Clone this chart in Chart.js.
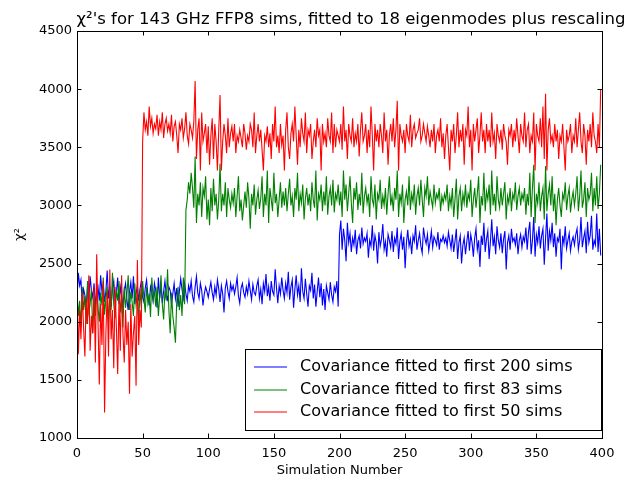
<!DOCTYPE html>
<html>
<head>
<meta charset="utf-8">
<script src="https://cdn.jsdelivr.net/npm/chart.js@4/dist/chart.umd.min.js"></script>
<style>
  html, body { margin: 0; padding: 0; background: #fff; }
  #wrap { width: 638px; height: 478px; }
</style>
</head>
<body>
<div id="wrap"><canvas id="chi2Chart" width="638" height="478"></canvas></div>
<script>
// chi^2 per simulation, one value per sim (sim number = index)
const cov200 = [
  2200, 2420, 2310, 2360, 2150, 2280, 2230, 2120, 2300, 2180, 2390, 2270, 2210, 2330, 2140, 2250, 2300, 2180, 2400, 2260,
  2320, 2170, 2260, 2440, 2200, 2300, 2130, 2280, 2350, 2190, 2250, 2380, 2150, 2300, 2220, 2120, 2270, 2330, 2190, 2100,
  2260, 2340, 2200, 2390, 2150, 2240, 2310, 2180, 2280, 2350, 2210, 2170, 2290, 2360, 2230, 2140, 2300, 2250, 2180, 2330,
  2270, 2120, 2380, 2200, 2310, 2160, 2260, 2350, 2230, 2190, 2300, 2270, 2150, 2240, 2330, 2200, 2290, 2130, 2260, 2370,
  2280, 2200, 2330, 2240, 2180, 2310, 2260, 2350, 2220, 2170, 2300, 2390, 2250, 2200, 2330, 2270, 2140, 2240, 2300, 2260,
  2210, 2280, 2340, 2250, 2190, 2300, 2230, 2360, 2280, 2170, 2310, 2240, 2080, 2290, 2350, 2260, 2200, 2330, 2270, 2310,
  2240, 2300, 2380, 2220, 2160, 2290, 2330, 2250, 2210, 2300, 2240, 2350, 2270, 2190, 2320, 2250, 2230, 2310, 2360, 2200,
  2280, 2150, 2330, 2260, 2410, 2220, 2300, 2180, 2350, 2260, 2230, 2450, 2290, 2160, 2310, 2240, 2380, 2270, 2200, 2330,
  2250, 2430, 2190, 2300, 2360, 2120, 2280, 2400, 2230, 2310, 2170, 2460, 2260, 2200, 2370, 2240, 2130, 2310, 2270, 2420,
  2200, 2320, 2130, 2260, 2380, 2210, 2330, 2140, 2280, 2100, 2310, 2250, 2190, 2340, 2230, 2170, 2300, 2260, 2350, 2130,
  2750, 2870, 2620, 2800, 2700, 2520, 2850, 2680, 2760, 2600, 2720, 2660, 2790, 2580, 2700, 2740, 2630, 2810, 2670, 2720,
  2690, 2760, 2550, 2700, 2650, 2830, 2610, 2740, 2680, 2500, 2770, 2650, 2710, 2840, 2620, 2690, 2560, 2750, 2700, 2640,
  2780, 2600, 2720, 2670, 2810, 2540, 2690, 2760, 2620, 2730, 2460, 2680, 2790, 2650, 2710, 2580, 2740, 2690, 2830, 2620,
  2700, 2760, 2650, 2590, 2810, 2720, 2670, 2750, 2610, 2690, 2780, 2640, 2730, 2700, 2660, 2770, 2620, 2710, 2690, 2740,
  2680, 2720, 2650, 2770, 2700, 2630, 2750, 2600, 2690, 2800, 2540, 2680, 2740, 2500, 2660, 2720, 2580, 2690, 2780, 2610,
  2750, 2680, 2560, 2720, 2800, 2620, 2700, 2470, 2740, 2660, 2850, 2600, 2710, 2780, 2540, 2690, 2880, 2650, 2730, 2580,
  2820, 2700, 2640, 2760, 2590, 2710, 2780, 2450, 2680, 2740, 2620, 2800, 2690, 2720, 2660, 2760, 2580, 2700, 2750, 2640,
  2730, 2690, 2810, 2620, 2770, 2860, 2580, 2700, 2900, 2560, 2750, 2680, 2820, 2630, 2740, 2800, 2490, 2720, 2930, 2610,
  2780, 2700, 2850, 2640, 2760, 2560, 2720, 2690, 2800, 2450, 2740, 2670, 2820, 2630, 2700, 2760, 2610, 2690, 2730, 2660,
  2750, 2800, 2620, 2700, 2900, 2640, 2720, 2780, 2590, 2860, 2680, 2740, 2910, 2620, 2700, 2660, 2930, 2600, 2800, 2570
];
const cov83 = [
  2250, 2050, 2180, 1950, 2300, 2100, 2220, 1980, 2350, 2080, 2150, 2280, 1900, 2200, 2050, 2320, 2120, 2000, 2250, 2140,
  2380, 2060, 2190, 2300, 1980, 2240, 2100, 2420, 2150, 2030, 2270, 2180, 2350, 2080, 2200, 1950, 2300, 2120, 2230, 2400,
  2100, 2260, 2170, 2050, 2330, 2150, 2230, 1980, 2280, 2120, 2350, 2200, 2080, 2300, 2160, 2240, 2040, 2380, 2190, 2260,
  2130, 2300, 2050, 2220, 2400, 2150, 2020, 2270, 2180, 2450, 2100, 1900, 2250, 2050, 1950, 1820, 2180, 2300, 2100, 2230,
  2050, 2380, 2150, 2960, 3050, 3200, 3100, 3280, 3150, 2980, 3420, 2850, 3100, 3000, 3200, 2900, 3150, 3080, 3250, 2880,
  3050, 2830, 3150, 2950, 3230, 3000, 3100, 2880, 3050, 3360, 2950, 3100, 3000, 3200, 2900, 3150, 3050, 2980, 3100, 3020,
  3150, 2900, 3080, 3250, 2950, 3050, 2870, 3000, 3120, 2980, 3200, 3060, 2800, 3100, 3000, 3180, 2920, 3050, 3130, 2970,
  3060, 3250, 2900, 3100, 3000, 3300, 2850, 3150, 3050, 2950, 3280, 3020, 3100, 2900, 3050, 3200, 2980, 3120, 3000, 3150,
  2950, 3100, 3230, 3000, 3080, 2900, 3150, 3050, 3280, 2950, 3100, 3020, 3180, 2880, 3060, 3150, 3000, 3100, 2950, 3200,
  3050, 2980, 3300, 2870, 3100, 3050, 3180, 2950, 3120, 3000, 3250, 2920, 3080, 3150, 3000, 3220, 2940, 3100, 3050, 3180,
  3000, 3120, 2900, 3300, 3050, 3180, 2950, 3100, 3250, 3020, 2850, 3150, 3050, 3200, 2960, 3100, 3000, 3280, 2930, 3080,
  3150, 3020, 3100, 2900, 3250, 3050, 3000, 3180, 2880, 3100, 3050, 3220, 2970, 3080, 3000, 3150, 2920, 3100, 3250, 3000,
  3080, 2950, 3150, 3050, 3300, 2900, 3100, 3020, 3180, 2850, 3050, 3120, 3000, 3250, 2960, 3100, 3030, 3180, 2920, 3080,
  3150, 3000, 3220, 3050, 2900, 3150, 3080, 3250, 3000, 3120, 3050, 2980, 3180, 3020, 3100, 3060, 3150, 2950, 3080, 3020,
  3100, 3050, 3180, 2950, 3080, 3000, 3150, 2900, 3050, 3230, 2880, 3080, 3150, 2950, 3100, 3020, 3180, 2980, 3100, 3050,
  3220, 2900, 3050, 3150, 2980, 3100, 3250, 2850, 3080, 3000, 3280, 2950, 3120, 3050, 3180, 2920, 3300, 3000, 3100, 2950,
  3250, 3050, 2980, 3150, 3000, 3100, 3200, 2880, 3080, 3020, 3150, 2950, 3100, 3050, 3200, 2960, 3080, 3150, 3000, 3100,
  3050, 3150, 2920, 3100, 3000, 3280, 2900, 3150, 3350, 2850, 3100, 3020, 3200, 2950, 3080, 3150, 2880, 3340, 2950, 3100,
  3180, 3000, 3250, 2950, 3100, 2830, 3050, 3150, 3000, 2900, 3100, 3050, 3200, 2960, 3080, 3150, 2940, 3050, 3120, 3000,
  3100, 3250, 2950, 3080, 3300, 2980, 3050, 3200, 2900, 3150, 3050, 3100, 3280, 2950, 3150, 3000, 3250, 2970, 3100, 3350
];
const cov50 = [
  2300, 1720, 2100, 1850, 2250, 1950, 1700, 2200, 1980, 2400, 1750, 2050, 1900, 2300, 1650, 2580, 2000, 1460, 2150, 1800,
  2350, 1220, 1900, 2250, 1700, 2450, 1850, 2100, 1600, 2300, 1950, 1550, 2200, 1750, 2400, 1900, 1650, 2100, 1800, 2000,
  1380, 2150, 1700, 1900, 2050, 1450, 2530, 1800, 2100, 1950, 3550, 3800, 3650, 3720, 3600, 3850, 3680, 3750, 3620, 3700,
  3660, 3780, 3600, 3720, 3650, 3800, 3580, 3700, 3750, 3640, 3700, 3620, 3780, 3550, 3680, 3720, 3600, 3450, 3700, 3650,
  3750, 3580, 3660, 3800, 3600, 3530, 3700, 3650, 3580, 3720, 4070, 3400, 3650, 3750, 3300, 3800, 3550, 3620, 3700, 3450,
  3680, 3350, 3600, 3750, 3400, 3700, 3550, 3300, 3650, 3950, 3300, 3550, 3700, 3600, 3450, 3750, 3500, 3620, 3680, 3550,
  3700, 3450, 3600, 3550, 3650, 3580, 3500, 3700, 3620, 3480, 3600, 3550, 3700, 3650, 3500, 3800, 3450, 3600, 3700, 3550,
  3650, 3480, 3300, 3600, 3550, 3680, 3500, 3620, 3400, 3700, 3550, 3850, 3500, 3600, 3450, 3700, 3520, 3600, 3300, 3650,
  3800, 3500, 3400, 3620, 3700, 3550, 3850, 3600, 3350, 3650, 3500, 3750, 3620, 3550, 3800, 3450, 3650, 3600, 3700, 3400,
  3550, 3650, 3500, 3750, 3600, 3650, 3300, 3700, 3550, 3620, 3500, 3750, 3600, 3550, 3800, 3450, 3700, 3500, 3650, 3600,
  3550, 3700, 3480, 3850, 3550, 3650, 3400, 3700, 3600, 3550, 3750, 3500, 3620, 3550, 3700, 3420, 3650, 3800, 3550, 3600,
  3700, 3450, 3650, 3500, 3850, 3600, 3300, 3700, 3550, 3650, 3500, 3700, 3600, 3450, 3800, 3550, 3650, 3350, 3600, 3700,
  3550, 3750, 3500, 3650, 3900, 3300, 3700, 3600, 3550, 3650, 3450, 3700, 3600, 3550, 3780, 3500, 3650, 3700, 3580, 3620,
  3650, 3750, 3550, 3600, 3700, 3620, 3550, 3680, 3600, 3500, 3650, 3550, 3700, 3450, 3600, 3650, 3550, 3750, 3500, 3620,
  3400, 3600, 3700, 3500, 3300, 3650, 3550, 3700, 3450, 3600, 3800, 3500, 3650, 3550, 3700, 3350, 3650, 3600, 3850, 3500,
  3650, 3300, 3700, 3550, 3650, 3750, 3450, 3600, 3800, 3550, 3650, 3450, 3700, 3550, 3650, 3500, 3800, 3550, 3620, 3400,
  3700, 3600, 3550, 3650, 3480, 3700, 3600, 3550, 3350, 3650, 3600, 3700, 3500, 3650, 3550, 3750, 3600, 3450, 3700, 3600,
  3550, 3800, 3500, 3650, 3700, 3450, 3600, 3550, 3800, 3300, 3700, 3600, 3550, 3750, 3500, 3850, 3400, 3960, 3300, 3650,
  3750, 3550, 3600, 3500, 3700, 3550, 3650, 3400, 3600, 3550, 3700, 3500, 3300, 3650, 3550, 3600, 3700, 3450, 3600, 3550,
  3750, 3500, 3650, 3800, 3550, 3450, 3700, 3600, 3350, 3650, 3550, 3700, 3500, 3800, 3600, 3550, 3450, 3700, 3500, 4000
];
const seriesLabels = [
  'Covariance fitted to first 200 sims',
  'Covariance fitted to first 83 sims',
  'Covariance fitted to first 50 sims'
];
const seriesColors = ['#0000ff', '#008000', '#ff0000'];
const titleText = "\u03c7\u00b2's for 143 GHz FFP8 sims, fitted to 18 eigenmodes plus rescaling";

function toPoints(arr) {
  return arr.map((v, i) => ({ x: i, y: v }));
}

// matplotlib-style frame with inward ticks on every side, title and legend box
const mplDecor = {
  id: 'mplDecor',
  afterDraw(chart) {
    const ctx = chart.ctx;
    const a = chart.chartArea;
    const xs = chart.scales.x, ys = chart.scales.y;
    const tl = 4.5;
    ctx.save();
    ctx.strokeStyle = '#000';
    ctx.lineWidth = 1;
    ctx.beginPath();
    xs.ticks.forEach(t => {
      const px = Math.round(xs.getPixelForValue(t.value)) + 0.5;
      ctx.moveTo(px, a.bottom); ctx.lineTo(px, a.bottom - tl);
      ctx.moveTo(px, a.top); ctx.lineTo(px, a.top + tl);
    });
    ys.ticks.forEach(t => {
      const py = Math.round(ys.getPixelForValue(t.value)) + 0.5;
      ctx.moveTo(a.left, py); ctx.lineTo(a.left + tl, py);
      ctx.moveTo(a.right, py); ctx.lineTo(a.right - tl, py);
    });
    ctx.stroke();
    ctx.strokeRect(Math.round(a.left) + 0.5, Math.round(a.top) + 0.5,
      Math.round(a.right - a.left), Math.round(a.bottom - a.top));

    // title
    ctx.fillStyle = '#000';
    ctx.font = '16.5px "DejaVu Sans"';
    ctx.textAlign = 'center';
    ctx.textBaseline = 'alphabetic';
    ctx.fillText(titleText, 351, 24);

    // legend
    const lx = 245, ly = 349, lw = 356, lh = 81;
    ctx.fillStyle = '#fff';
    ctx.fillRect(lx, ly, lw, lh);
    ctx.strokeStyle = '#000';
    ctx.strokeRect(lx + 0.5, ly + 0.5, lw, lh);
    ctx.font = '16px "DejaVu Sans"';
    ctx.textAlign = 'left';
    ctx.textBaseline = 'middle';
    seriesLabels.forEach((lab, i) => {
      const yy = Math.round(ly + 18 + i * 22.5);
      ctx.beginPath();
      ctx.strokeStyle = seriesColors[i];
      ctx.lineWidth = 1.2;
      ctx.moveTo(254, yy);
      ctx.lineTo(287, yy);
      ctx.stroke();
      ctx.fillStyle = '#000';
      ctx.fillText(lab, 300, yy);
    });
    ctx.restore();
  }
};

const ctx = document.getElementById('chi2Chart').getContext('2d');
const chart = new Chart(ctx, {
  type: 'line',
  data: {
    datasets: [cov200, cov83, cov50].map((arr, i) => ({
      label: seriesLabels[i],
      data: toPoints(arr),
      borderColor: seriesColors[i],
      borderWidth: 1.1,
      pointRadius: 0,
      tension: 0,
      fill: false,
      order: 2 - i
    }))
  },
  options: {
    responsive: false,
    animation: false,
    events: [],
    layout: { padding: { top: 31, right: 36, left: 0, bottom: 0 } },
    plugins: {
      legend: { display: false },
      title: { display: false },
      tooltip: { enabled: false }
    },
    scales: {
      x: {
        type: 'linear',
        min: 0,
        max: 400,
        grid: { display: false, drawTicks: false },
        border: { display: false },
        ticks: {
          stepSize: 50,
          padding: 8,
          color: '#000',
          font: { family: 'DejaVu Sans', size: 13 },
          maxRotation: 0,
          callback: v => String(v)
        },
        title: {
          display: true,
          text: 'Simulation Number',
          color: '#000',
          font: { family: 'DejaVu Sans', size: 13 },
          padding: { top: 0, bottom: 0 }
        },
        afterFit(scale) { scale.height = 40; }
      },
      y: {
        min: 1000,
        max: 4500,
        grid: { display: false, drawTicks: false },
        border: { display: false },
        ticks: {
          stepSize: 500,
          padding: 5,
          color: '#000',
          font: { family: 'DejaVu Sans', size: 13 },
          callback: v => String(v)
        },
        title: {
          display: true,
          text: '\u03c7\u00b2',
          color: '#000',
          font: { family: 'DejaVu Sans', size: 13 },
          padding: { top: 12, bottom: 0 }
        },
        afterFit(scale) { scale.width = 77; }
      }
    }
  },
  plugins: [mplDecor]
});
</script>
</body>
</html>
